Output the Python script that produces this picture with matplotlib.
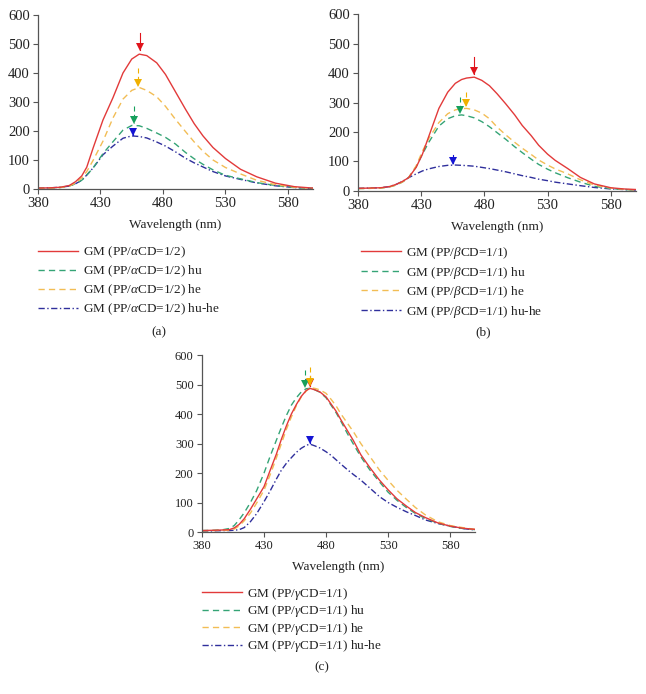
import numpy as np
import matplotlib
matplotlib.use("Agg")
import matplotlib.pyplot as plt
from matplotlib.lines import Line2D

plt.rcParams['font.family'] = ['Liberation Serif', 'DejaVu Serif']
plt.rcParams['mathtext.fontset'] = 'custom'
plt.rcParams['mathtext.rm'] = 'Liberation Serif'
plt.rcParams['mathtext.it'] = 'Liberation Serif:italic'

# ---- panel (a): PP/aCD = 1/2 ----
wl_a = [380, 390, 398, 405, 410, 415, 419, 424, 432, 440, 448, 455, 461, 467,
        475, 482, 490, 498, 505, 512, 520, 530, 542, 555, 570, 585, 600]
gm_a = [3, 4, 6, 12, 25, 45, 75, 140, 238, 315, 400, 448, 465, 460,
        435, 395, 335, 275, 225, 183, 143, 105, 68, 42, 20, 8, 3]
hu_a = [2, 3, 5, 10, 18, 30, 48, 72, 122, 163, 203, 219, 218, 209,
        193, 178, 155, 126, 104, 85, 66, 47, 35, 22, 12, 5, 2]
he_a = [2, 3, 5, 10, 20, 38, 60, 98, 165, 245, 310, 340, 350, 340,
        318, 285, 240, 198, 162, 130, 100, 74, 52, 30, 15, 6, 2]
huhe_a = [3, 4, 6, 10, 18, 30, 48, 72, 118, 148, 175, 183, 181, 176,
          162, 148, 128, 106, 90, 76, 60, 45, 33, 21, 11, 5, 2]
# peak arrows: x, tail, tip  (order: GM, hu, he, hu-he)
arr_x_a = [461.5, 457, 459.7, 456]
arr_top_a = [538, 286, 417, 200]
arr_tip_a = [479, 228, 357, 186]

# ---- panel (b): PP/bCD = 1/1 ----
wl_b = [380, 390, 398, 405, 410, 415, 420, 426, 431, 436, 444, 451, 457, 462, 466, 472,
        478, 484, 490, 497, 504, 510, 517, 523, 530, 536, 546, 556, 567, 580, 590, 600]
gm_b = [9, 10, 11, 15, 22, 32, 45, 80, 125, 185, 280, 335, 365, 378, 383, 386,
        375, 357, 330, 295, 258, 222, 188, 155, 125, 104, 76, 46, 24, 11, 7, 5]
hu_b = [8, 9, 10, 14, 20, 30, 45, 82, 125, 165, 220, 245, 255, 258, 255, 248,
        235, 218, 198, 175, 150, 130, 108, 90, 74, 62, 45, 30, 16, 8, 5, 3]
he_b = [8, 9, 10, 14, 20, 30, 45, 85, 135, 178, 232, 262, 275, 279, 280, 275,
        264, 245, 217, 190, 165, 145, 124, 105, 88, 75, 58, 38, 20, 10, 6, 3]
huhe_b = [9, 10, 11, 15, 22, 32, 45, 58, 68, 75, 83, 87, 88, 87, 86, 84,
          80, 76, 71, 65, 58, 52, 46, 40, 35, 30, 24, 18, 12, 7, 5, 3]
arr_x_b = [471.8, 461, 465.3, 455]
arr_top_b = [454, 319, 336, 122]
arr_tip_b = [398, 264, 288, 94]

# ---- panel (c): PP/gCD = 1/1 ----
wl_c = [380, 390, 397, 402, 406, 410, 414, 419, 424, 430, 435, 440, 444, 448, 452, 456, 460,
        464, 467, 471, 475, 480, 484, 488, 492, 497, 502, 508, 515, 523, 530, 537, 545,
        552, 560, 570, 580, 590, 600]
gm_c = [5, 6, 7, 8, 14, 26, 45, 77, 112, 154, 210, 265, 315, 360, 400, 432, 460,
        480, 487, 482, 475, 458, 434, 410, 380, 345, 310, 262, 220, 176, 143, 113, 87,
        66, 49, 31, 20, 13, 9]
hu_c = [5, 6, 8, 12, 22, 42, 65, 100, 140, 200, 258, 312, 355, 395, 430, 455, 475,
        486, 487, 482, 474, 455, 430, 405, 375, 335, 298, 255, 212, 170, 135, 108, 82,
        63, 46, 30, 19, 12, 8]
he_c = [4, 5, 6, 6, 10, 21, 38, 64, 98, 142, 195, 252, 300, 348, 390, 428, 458,
        478, 489, 487, 482, 470, 450, 428, 400, 370, 340, 300, 258, 210, 175, 142, 110,
        83, 58, 35, 22, 15, 9]
huhe_c = [3, 4, 5, 5, 6, 8, 15, 35, 62, 103, 140, 180, 210, 233, 252, 270, 284,
          294, 298, 292, 285, 272, 260, 245, 230, 212, 195, 176, 150, 120, 100, 84, 68,
          56, 41, 29, 20, 12, 7]
arr_x_c = [467.3, 463.2, 467.3, 467]
arr_top_c = [528, 549, 560, 325]
arr_tip_c = [496, 494, 500, 302]

cd_names = ['$\\alpha$CD=1/2', '$\\beta$CD=1/1', '$\\gamma$CD=1/1']
suffixes = ['', ' hu', ' he', ' hu-he']
panel_tags = ['(a)', '(b)', '(c)']

line_cols = ['#e23a3a', '#35a476', '#f2bd55', '#2f2f9c']
head_cols = ['#e0141c', '#16a05c', '#f0b000', '#1414d4']
styles = [dict(ls='-'), dict(ls=(0, (4.5, 3))), dict(ls=(0, (4.5, 3))),
          dict(ls=(0, (4.5, 1.8, 1, 1.8)))]
draw_order = [3, 1, 2, 0]

fig = plt.figure(figsize=(6.46, 6.94), dpi=100)

axes_rects = [[0.0588, 0.7277, 0.4257, 0.2507],
              [0.5542, 0.7248, 0.4303, 0.2550],
              [0.3127, 0.2334, 0.4226, 0.2550]]
legend_pos = [(0.0588, 0.647), (0.5588, 0.647), (0.3127, 0.156)]
tag_pos = [(0.246, 0.5216), (0.7477, 0.5216), (0.4985, 0.039)]
tick_sizes = [10.5, 10.5, 9]
leg_spacing = [0.27, 0.27, 0.12]

panels = [
    (wl_a, [gm_a, hu_a, he_a, huhe_a], arr_x_a, arr_top_a, arr_tip_a),
    (wl_b, [gm_b, hu_b, he_b, huhe_b], arr_x_b, arr_top_b, arr_tip_b),
    (wl_c, [gm_c, hu_c, he_c, huhe_c], arr_x_c, arr_top_c, arr_tip_c),
]

for i, (wl, series, ax_x, ax_top, ax_tip) in enumerate(panels):
    ax = fig.add_axes(axes_rects[i])
    for k in draw_order:
        ax.plot(wl, series[k], color=line_cols[k], lw=1.0, **styles[k])
    # peak arrows
    for k in range(4):
        ax.plot([ax_x[k], ax_x[k]], [ax_top[k], ax_tip[k]], color=head_cols[k],
                lw=0.8, **styles[k] if k in (1, 2) else {})
        ax.plot(ax_x[k], ax_tip[k] + 9, marker='v', ms=6, color=head_cols[k], mew=0)

    ax.set_xlim(380, 600)
    ax.set_ylim(0, 600)
    ax.set_xticks([380, 430, 480, 530, 580])
    ax.set_yticks(range(0, 601, 100))
    for s in ('top', 'right'):
        ax.spines[s].set_visible(False)
    for s in ('left', 'bottom'):
        ax.spines[s].set_color('#555555')
        ax.spines[s].set_linewidth(0.9)
    ax.tick_params(direction='out', length=3.5, width=0.8, color='#555555',
                   labelsize=tick_sizes[i], pad=2.5, labelcolor='#222222')
    ax.set_xlabel('Wavelength (nm)', fontsize=9.5, labelpad=6, color='#222222')

    handles = [Line2D([], [], color=line_cols[k], lw=1.0, **styles[k]) for k in range(4)]
    labels = ['GM (PP/' + cd_names[i] + ')' + suf for suf in suffixes]
    ax.legend(handles, labels, loc='upper left', bbox_to_anchor=legend_pos[i],
              bbox_transform=fig.transFigure, frameon=False, fontsize=9.5,
              handlelength=3.0, handletextpad=0.4, labelspacing=leg_spacing[i],
              borderpad=0, borderaxespad=0, labelcolor='#222222')
    fig.text(tag_pos[i][0], tag_pos[i][1], panel_tags[i], ha='center', va='center',
             fontsize=9.5, color='#222222')

fig.savefig('out.png', dpi=100)
